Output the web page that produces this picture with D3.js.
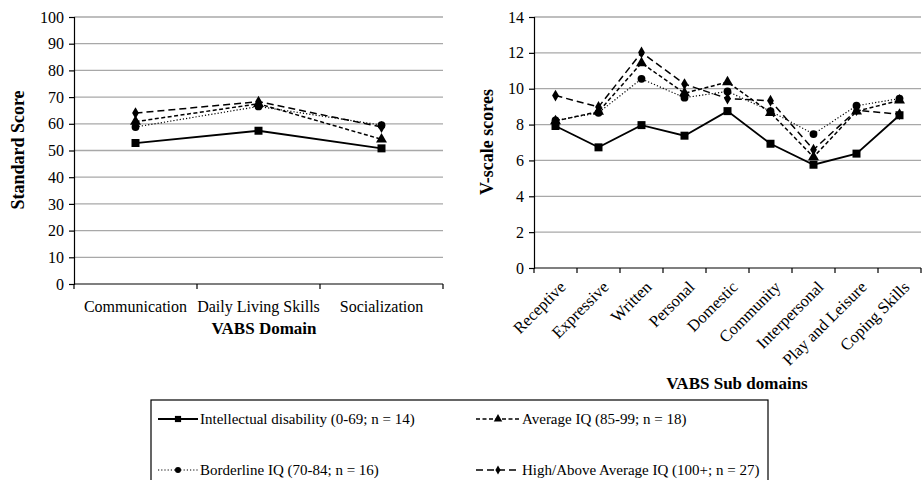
<!DOCTYPE html>
<html>
<head>
<meta charset="utf-8">
<script src="https://cdn.jsdelivr.net/npm/d3@7"></script>
<style>
  body { margin: 0; background: #fff; }
</style>
</head>
<body>
<div id="chart"></div>
<script>
// Domain level (left panel)
const domains = ['Communication', 'Daily Living Skills', 'Socialization'];
const domainID = [52.8, 57.4, 50.8];
const domainAvg = [60.8, 67.5, 54.2];
const domainBorder = [58.8, 66.5, 59.5];
const domainHigh = [64.0, 68.3, 58.8];
const domainTicks = [0, 10, 20, 30, 40, 50, 60, 70, 80, 90, 100];

// Sub domain level (right panel)
const subdomains = ['Receptive', 'Expressive', 'Written', 'Personal', 'Domestic', 'Community', 'Interpersonal', 'Play and Leisure', 'Coping Skills'];
const subID = [7.92, 6.73, 7.97, 7.38, 8.75, 6.93, 5.76, 6.38, 8.52];
const subAvg = [8.2, 8.72, 11.43, 9.75, 10.37, 8.66, 6.19, 8.74, 9.35];
const subBorder = [8.23, 8.66, 10.55, 9.5, 9.85, 8.75, 7.47, 9.05, 9.45];
const subHigh = [9.62, 8.98, 12.02, 10.26, 9.45, 9.33, 6.6, 8.8, 8.58];
const subTicks = [0, 2, 4, 6, 8, 10, 12, 14];

const seriesNames = ['Intellectual disability (0-69; n = 14)', 'Borderline IQ (70-84; n = 16)', 'Average IQ (85-99; n = 18)', 'High/Above Average IQ (100+; n = 27)'];

const FONT = '"Liberation Serif", "Times New Roman", "DejaVu Serif", serif';

const styles = {
  id: {dash: null, sym: d3.symbolSquare, size: 64, width: 1.8},
  border: {dash: '1.2,2', sym: d3.symbolCircle, size: 48, width: 1.2},
  avg: {dash: '4,2.5', sym: d3.symbolTriangle, size: 52, width: 1.5},
  high: {dash: '7,4', sym: d3.symbolDiamond, size: 40, width: 1.5}
};

const svg = d3.select('#chart').append('svg')
  .attr('width', 923).attr('height', 480)
  .style('font-family', FONT);

function panel(cats, series, yMax, ticks, left, right, top, bottom) {
  const x = d3.scaleBand().domain(cats).range([left, right]);
  const y = d3.scaleLinear().domain([0, yMax]).range([bottom, top]);
  const g = svg.append('g');

  // grid
  g.selectAll('line.grid').data(ticks.filter(t => t > 0)).enter()
    .append('line')
      .attr('x1', left).attr('x2', right)
      .attr('y1', d => y(d)).attr('y2', d => y(d))
      .attr('stroke', '#a8a8a8').attr('stroke-width', 1.3);

  const ya = g.append('g').attr('transform', 'translate(' + left + ',0)')
    .call(d3.axisLeft(y).tickValues(ticks).tickSize(5).tickPadding(5));
  ya.attr('font-family', null).attr('font-size', null);
  ya.selectAll('text').style('font-size', '16px').style('font-family', FONT);
  ya.selectAll('path,line').attr('stroke', '#000').attr('stroke-width', 1.2);

  // x axis with ticks at the band edges
  const xa = g.append('g').attr('transform', 'translate(0,' + bottom + ')');
  xa.append('line').attr('x1', left).attr('x2', right).attr('stroke', '#000').attr('stroke-width', 1.2);
  const edges = cats.map(c => x(c)).concat([right]);
  xa.selectAll('line.tk').data(edges).enter().append('line')
    .attr('x1', d => d).attr('x2', d => d).attr('y1', 0).attr('y2', 5)
    .attr('stroke', '#000').attr('stroke-width', 1.2);

  series.forEach(s => {
    const st = styles[s.key];
    const line = d3.line().x((d, i) => x(cats[i]) + x.bandwidth() / 2).y(d => y(d));
    g.append('path').datum(s.values)
      .attr('d', line).attr('fill', 'none').attr('stroke', '#000')
      .attr('stroke-width', st.width)
      .attr('stroke-dasharray', st.dash);
    g.selectAll(null).data(s.values).enter().append('path')
      .attr('transform', (d, i) => 'translate(' + (x(cats[i]) + x.bandwidth() / 2) + ',' + y(d) + ')')
      .attr('d', d3.symbol().type(st.sym).size(st.size)())
      .attr('fill', '#000');
  });
  return {x, y, g};
}

// left panel
const L = panel(domains, [
  {key: 'id', values: domainID},
  {key: 'border', values: domainBorder},
  {key: 'avg', values: domainAvg},
  {key: 'high', values: domainHigh}
], 100, domainTicks, 74, 443, 17, 284);

L.g.selectAll('text.cat').data(domains).enter().append('text')
  .attr('x', d => L.x(d) + L.x.bandwidth() / 2).attr('y', 312)
  .attr('text-anchor', 'middle').style('font-size', '16px').text(d => d);
svg.append('text').attr('x', 264).attr('y', 334).attr('text-anchor', 'middle')
  .style('font-size', '17px').style('font-weight', 'bold').text('VABS Domain');
svg.append('text').attr('transform', 'translate(24,150) rotate(-90)')
  .attr('text-anchor', 'middle').style('font-size', '18px').style('font-weight', 'bold').text('Standard Score');

// right panel
const R = panel(subdomains, [
  {key: 'id', values: subID},
  {key: 'border', values: subBorder},
  {key: 'avg', values: subAvg},
  {key: 'high', values: subHigh}
], 14, subTicks, 534, 921, 17, 268);

R.g.selectAll('text.cat').data(subdomains).enter().append('text')
  .attr('transform', d => 'translate(' + (R.x(d) + R.x.bandwidth() / 2 + 7) + ',284) rotate(-45)')
  .attr('text-anchor', 'end').attr('dy', '0.35em').style('font-size', '16.5px').text(d => d);
svg.append('text').attr('x', 737).attr('y', 389).attr('text-anchor', 'middle')
  .style('font-size', '17px').style('font-weight', 'bold').text('VABS Sub domains');
svg.append('text').attr('transform', 'translate(493,142) rotate(-90)')
  .attr('text-anchor', 'middle').style('font-size', '18px').style('font-weight', 'bold').text('V-scale scores');

// legend
const lg = svg.append('g');
lg.append('rect').attr('x', 151).attr('y', 400).attr('width', 617).attr('height', 90)
  .attr('fill', 'none').attr('stroke', '#000').attr('stroke-width', 1.2);
const legendItems = [
  {key: 'id', name: seriesNames[0], x: 158, y: 419},
  {key: 'avg', name: seriesNames[2], x: 476, y: 419},
  {key: 'border', name: seriesNames[1], x: 158, y: 470},
  {key: 'high', name: seriesNames[3], x: 476, y: 470}
];
legendItems.forEach(it => {
  const st = styles[it.key];
  const w = it.x < 300 ? 40 : 44;
  lg.append('line').attr('x1', it.x).attr('x2', it.x + w).attr('y1', it.y).attr('y2', it.y)
    .attr('stroke', '#000').attr('stroke-width', st.width).attr('stroke-dasharray', st.dash);
  lg.append('path').attr('transform', 'translate(' + (it.x + w / 2) + ',' + it.y + ')')
    .attr('d', d3.symbol().type(st.sym).size(st.size * 0.6)()).attr('fill', '#000');
  lg.append('text').attr('x', it.x + w + 2).attr('y', it.y).attr('dy', '0.35em')
    .style('font-size', '15px').text(it.name);
});
</script>
</body>
</html>
